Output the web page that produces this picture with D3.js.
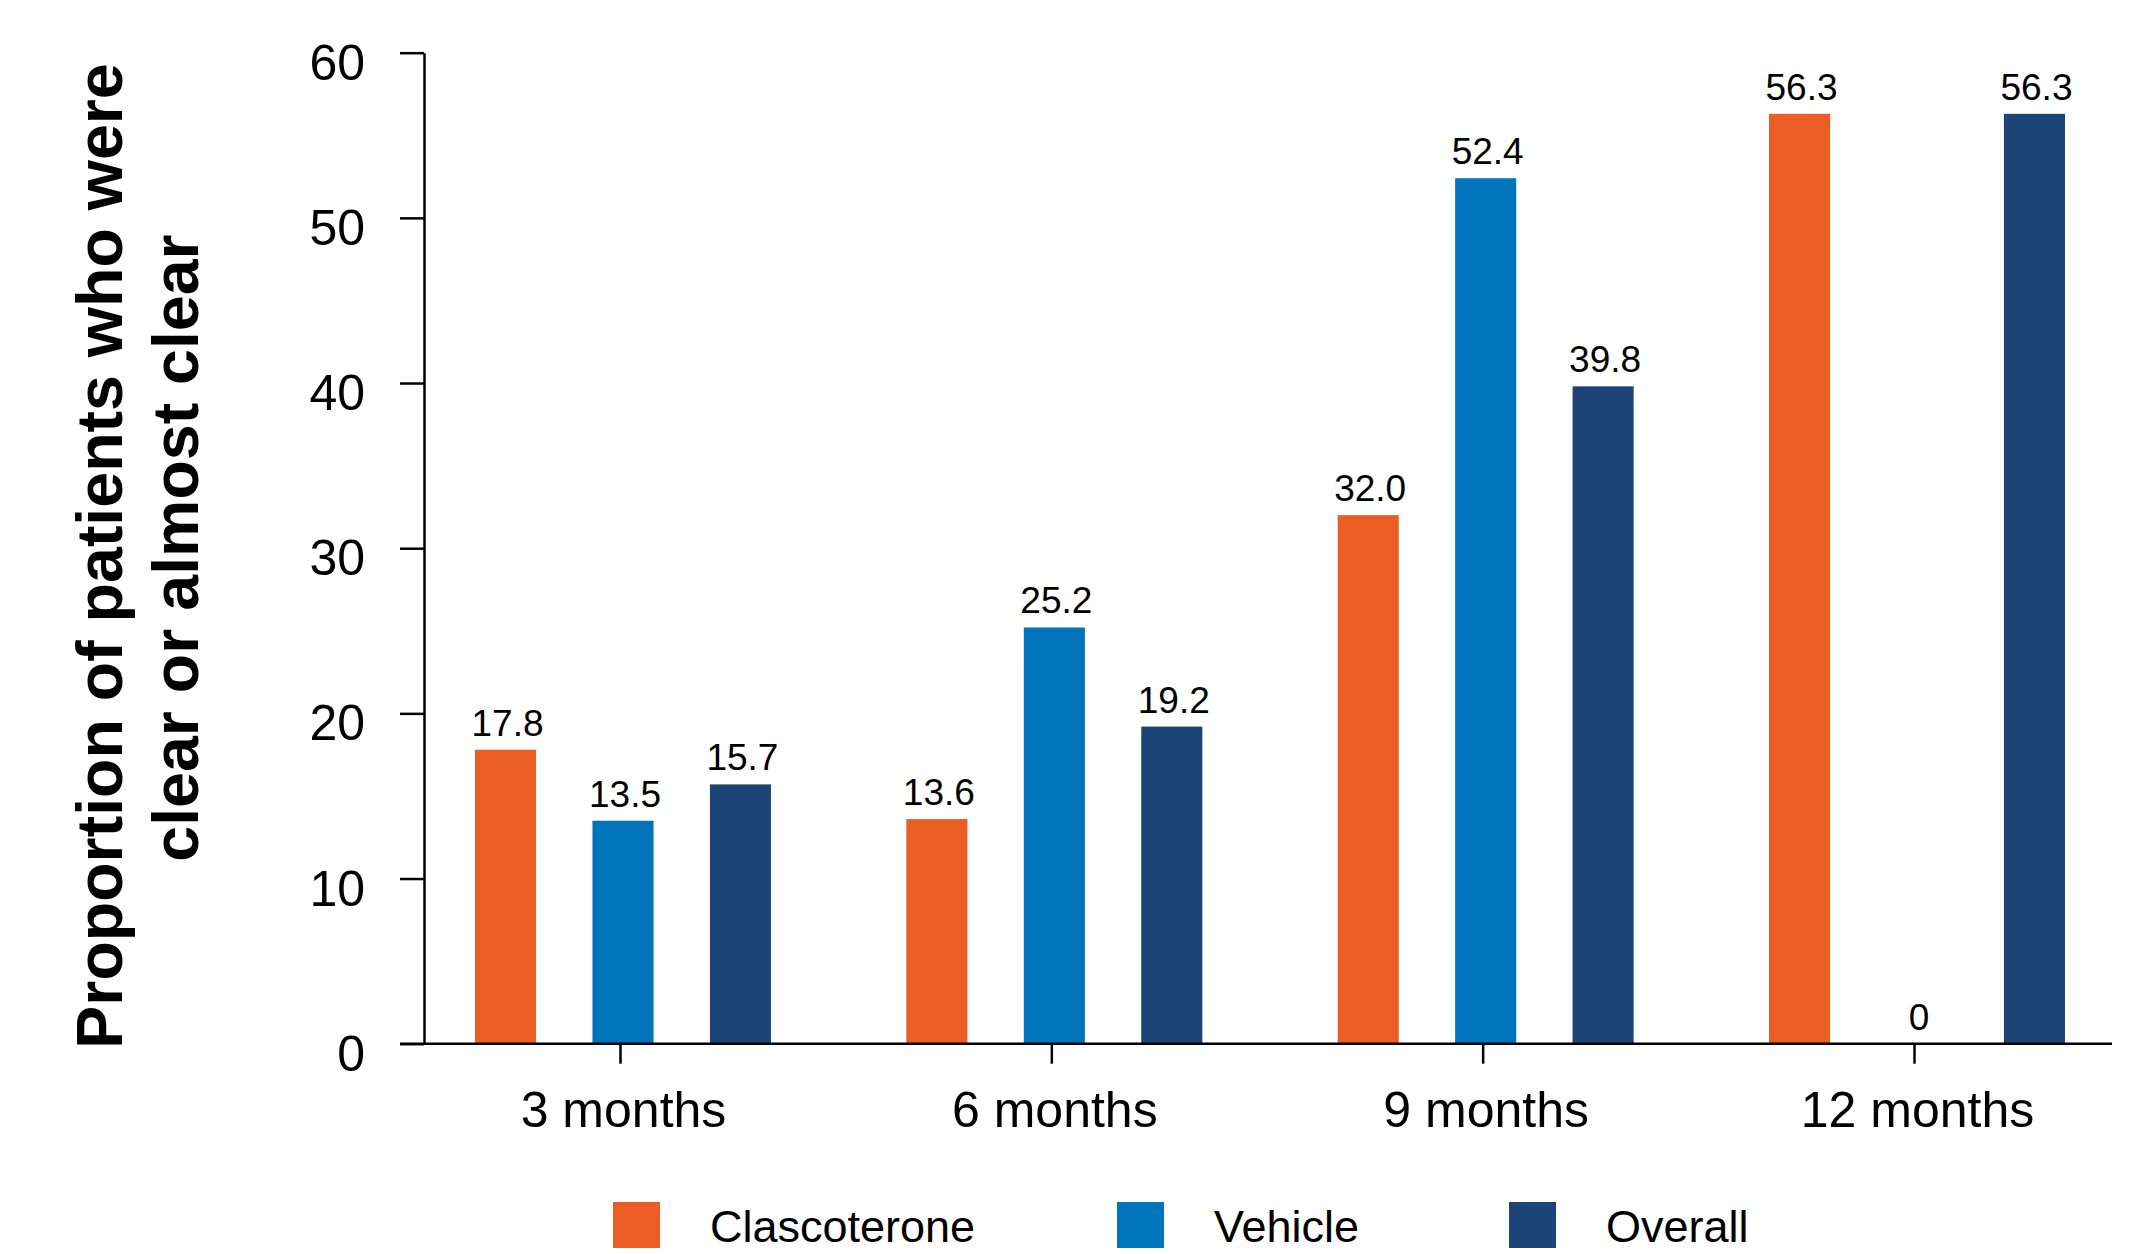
<!DOCTYPE html>
<html>
<head>
<meta charset="utf-8">
<script src="https://cdn.jsdelivr.net/npm/d3@7"></script>
<style>
  html, body { margin: 0; padding: 0; background: #ffffff; }
  svg { display: block; }
  text { font-family: "Liberation Sans", Arial, sans-serif; fill: #000; }
</style>
</head>
<body>
<svg id="chart" width="2155" height="1254"></svg>
<script>
const categories = ["3 months", "6 months", "9 months", "12 months"];
const seriesNames = ["Clascoterone", "Vehicle", "Overall"];
const clascotenoreValues = [17.8, 13.6, 32.0, 56.3];
const vehicleValues = [13.5, 25.2, 52.4, 0];
const overallValues = [15.7, 19.2, 39.8, 56.3];
const seriesColors = ["#EC5D25", "#0074BD", "#1C4476"];
const yTicks = [0, 10, 20, 30, 40, 50, 60];
const yTitleLines = ["Proportion of patients who were", "clear or almost clear"];

const seriesValues = [clascotenoreValues, vehicleValues, overallValues];
const fmt = v => v === 0 ? "0" : d3.format(".1f")(v);

const svg = d3.select("#chart");

const x0 = d3.scalePoint().domain(categories).range([424, 2110]).padding(0.4544);
const x1 = d3.scaleBand().domain(seriesNames).range([-145, 151]).paddingInner(0.48).paddingOuter(0);
const y = d3.scaleLinear().domain([0, 60]).range([1043.7, 52.7]);

// bars
const rows = [];
categories.forEach((c, i) => {
  seriesNames.forEach((s, j) => rows.push({ cat: c, series: s, value: seriesValues[j][i], color: seriesColors[j] }));
});

svg.append("g").selectAll("rect").data(rows).join("rect")
  .attr("x", d => x0(d.cat) + x1(d.series))
  .attr("y", d => y(d.value))
  .attr("width", x1.bandwidth())
  .attr("height", d => y(0) - y(d.value))
  .attr("fill", d => d.color);

svg.append("g").selectAll("text").data(rows).join("text")
  .attr("x", d => x0(d.cat) + x1(d.series) + x1.bandwidth() / 2 + 2)
  .attr("y", d => y(d.value) - 14)
  .attr("text-anchor", "middle")
  .attr("font-size", 37)
  .text(d => fmt(d.value));

// y axis
const yAxis = svg.append("g").attr("transform", "translate(424,0)")
  .call(d3.axisLeft(y).tickValues(yTicks).tickSize(24).tickSizeOuter(0).tickPadding(35));
yAxis.select(".domain").attr("stroke", "#000").attr("stroke-width", 2.5);
yAxis.selectAll(".tick line").attr("stroke", "#000").attr("stroke-width", 2.5);
yAxis.selectAll(".tick text").attr("font-size", 50).attr("dy", 26.5)
  .attr("font-family", '"Liberation Sans", Arial, sans-serif').attr("fill", "#000");

// x axis
const xAxis = svg.append("g").attr("transform", `translate(0,${y(0)})`)
  .call(d3.axisBottom(x0).tickSize(20).tickSizeOuter(0).tickPadding(0));
xAxis.select(".domain").remove();
xAxis.append("line")
  .attr("x1", x0.range()[0] - 24).attr("x2", x0.range()[1] + 2)
  .attr("stroke", "#000").attr("stroke-width", 2.5);
xAxis.selectAll(".tick line").attr("stroke", "#000").attr("stroke-width", 2.5);
xAxis.selectAll(".tick text").attr("font-size", 50).attr("dy", 0).attr("y", 83)
  .attr("dx", 3)
  .attr("font-family", '"Liberation Sans", Arial, sans-serif').attr("fill", "#000");

// y title
const titleCenters = [556, 548];
const titleBaselines = [122, 198];
svg.append("g").selectAll("text").data(yTitleLines).join("text")
  .attr("transform", (d, i) => `translate(${titleBaselines[i]},${titleCenters[i]}) rotate(-90)`)
  .attr("text-anchor", "middle")
  .attr("font-size", 64.5)
  .attr("font-weight", "bold")
  .text(d => d);

// legend
const legendSwatchX = [613, 1117, 1509];
const legend = svg.append("g").selectAll("g").data(seriesNames).join("g")
  .attr("transform", (d, i) => `translate(${legendSwatchX[i]},1202)`);
legend.append("rect").attr("width", 47).attr("height", 46).attr("fill", (d, i) => seriesColors[i]);
legend.append("text").attr("x", 97).attr("y", 40).attr("font-size", 45).text(d => d);
</script>
</body>
</html>
